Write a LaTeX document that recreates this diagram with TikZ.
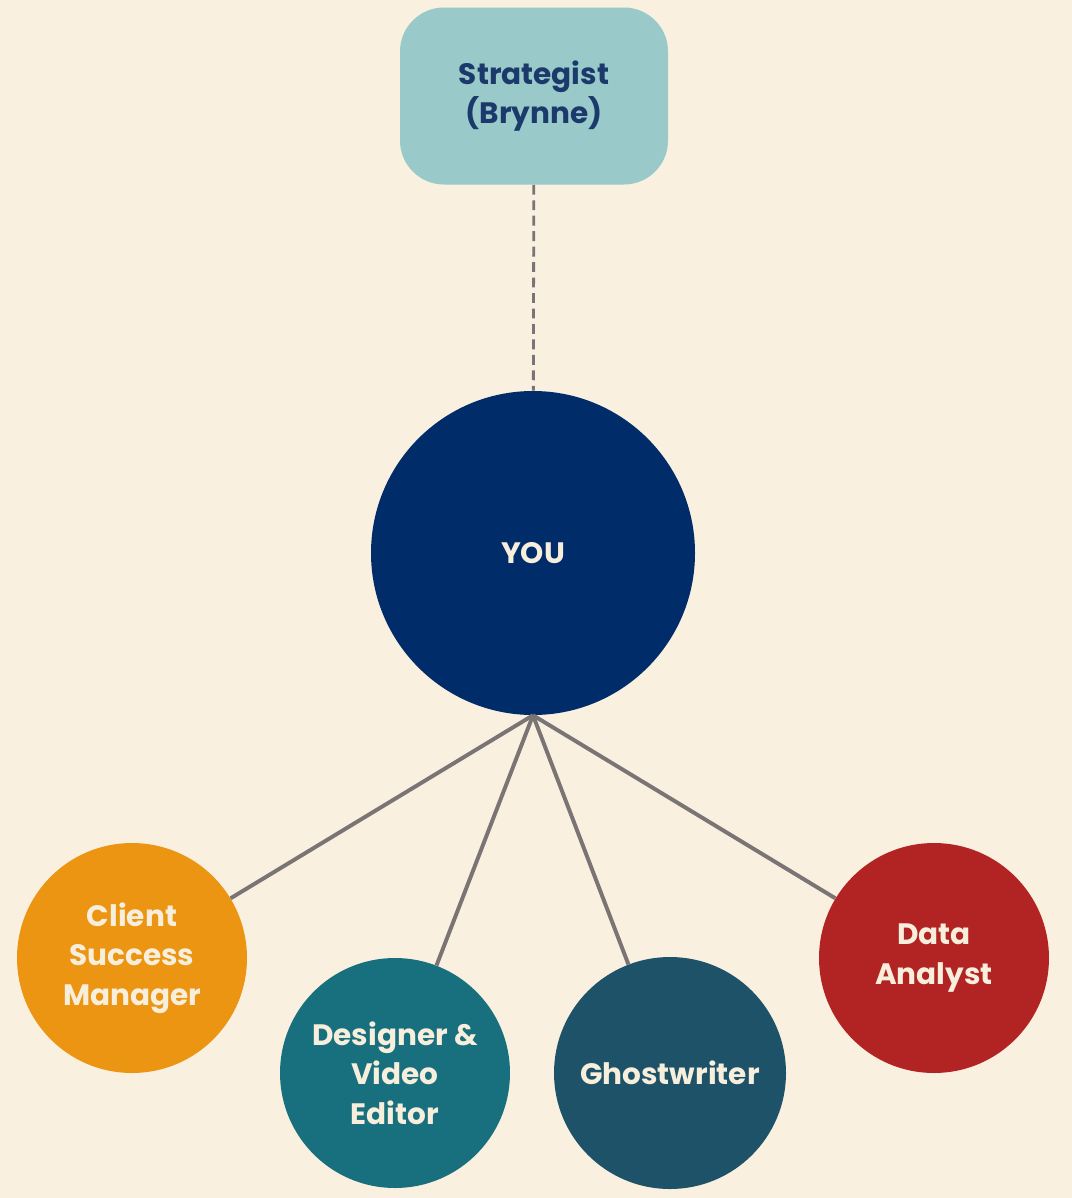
\documentclass[tikz,border=0pt]{standalone}
\usepackage{fontspec}
\setmainfont{Poppins}
\usetikzlibrary{positioning}
\definecolor{cream}{HTML}{FAF0E0}
\definecolor{teallight}{HTML}{99C9C8}
\definecolor{navy}{HTML}{002D69}
\definecolor{navytext}{HTML}{1B3A6B}
\definecolor{orangec}{HTML}{EC9512}
\definecolor{tealc}{HTML}{18707E}
\definecolor{slatec}{HTML}{1D5268}
\definecolor{redc}{HTML}{B22424}
\definecolor{linkgray}{HTML}{7A7574}
\definecolor{lighttext}{HTML}{F7EEDC}
\tikzset{
  member/.style={circle, minimum size=230*0.025cm, inner sep=0pt, align=center,
    text=lighttext, font=\fontsize{21}{28}\selectfont\bfseries},
  link/.style={draw=linkgray, line width=2.8pt}
}
\begin{document}
\begin{tikzpicture}[x=0.025cm, y=-0.025cm]
  \fill[cream] (0,0) rectangle (1072,1198);
  \useasboundingbox (0,0) rectangle (1072,1198);
  \node[fill=teallight, rounded corners=1.1cm, minimum width=268*0.025cm,
    minimum height=177*0.025cm, align=center, text=navytext,
    font=\fontsize{21}{28}\selectfont\bfseries] (boss) at (534,96) {Strategist\\(Brynne)};
  \node[member, fill=navy, minimum size=324*0.025cm] (you) at (533,553) {YOU};
  \node[member, fill=orangec] (csm) at (132,958) {Client\\Success\\Manager};
  \node[member, fill=tealc] (design) at (395,1073) {Designer \&\\Video\\Editor};
  \node[member, fill=slatec, minimum size=232*0.025cm] (ghost) at (670,1073) {Ghostwriter};
  \node[member, fill=redc] (data) at (934,958) {Data\\Analyst};

  \draw[link, dashed, line width=2pt, dash pattern=on 7pt off 4pt] (boss) -- (you);
  \foreach \n in {csm, design, ghost, data}
    \draw[link] (you.south) -- (\n);
\end{tikzpicture}
\end{document}
